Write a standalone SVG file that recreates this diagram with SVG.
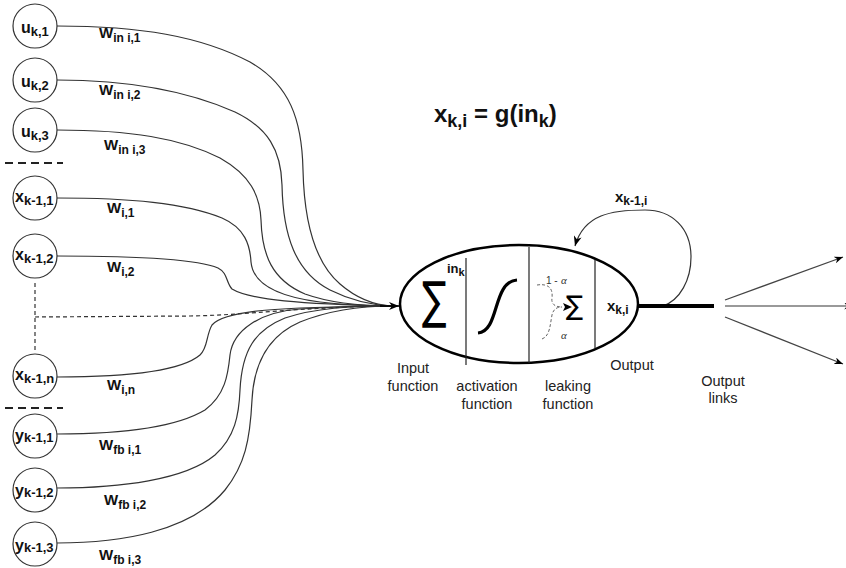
<svg xmlns="http://www.w3.org/2000/svg" width="846" height="568" viewBox="0 0 846 568">
  <style>
    .node circle { fill: #fff; stroke: #333; stroke-width: 1.2; }
    .b { font-family: "Liberation Sans", Arial, sans-serif; font-weight: bold; fill: #111; }
    .nl { font-size: 16px; }
    .ns { font-size: 13px; }
    .w { font-size: 15px; }
    .ws { font-size: 12px; }
    .cap { font-family: "Liberation Sans", Arial, sans-serif; font-size: 14.5px; fill: #222; text-anchor: middle; }
    .edge { fill: none; stroke: #333; stroke-width: 1.2; }
    .dash { fill: none; stroke: #333; stroke-width: 1.2; stroke-dasharray: 4 3; }
    .sep { stroke: #222; stroke-width: 1.8; stroke-dasharray: 8 5; }
  </style>
  <defs>
    <marker id="ah" viewBox="0 0 10 8" refX="10" refY="4" markerWidth="10" markerHeight="8" markerUnits="userSpaceOnUse" orient="auto">
      <path d="M0,0 L10,4 L0,8 L3,4 z" fill="#000"/>
    </marker>
    <marker id="ahs" viewBox="0 0 10 8" refX="10" refY="4" markerWidth="9" markerHeight="7" markerUnits="userSpaceOnUse" orient="auto">
      <path d="M0,0 L10,4 L0,8 L3,4 z" fill="#000"/>
    </marker>
  </defs>

  <rect width="846" height="568" fill="#fff"/>

  <!-- separators between input groups -->
  <line class="sep" x1="5" y1="163" x2="63" y2="163"/>
  <line class="sep" x1="5" y1="408" x2="63" y2="408"/>

  <!-- connectors -->
  <g id="connectors">
    <path class="edge" d="M57,26 C140,26 200,36 250,62 C290,85 302,120 303,170 C304,215 312,260 340,284 C355,297 372,305 392,306"/>
    <path class="edge" d="M57,80 C130,80 190,92 235,112 C268,128 281,150 282,185 C283,235 295,272 330,290 C350,300 370,305 392,306"/>
    <path class="edge" d="M57,130 C130,130 180,138 220,158 C250,175 260,195 261,220 C262,255 272,280 305,294 C330,303 360,306 392,306"/>
    <path class="edge" d="M57,198 C130,198 185,203 222,218 C245,228 250,245 251,262 C253,285 280,297 320,302 C345,305 370,306 392,306"/>
    <path class="edge" d="M57,256 C130,256 195,258 218,268 C228,273 226,283 232,289 C250,300 300,304 392,306"/>
    <path class="dash" d="M35,283 L35,352"/>
    <path class="dash" d="M35,317 L190,316 C250,315 300,307 392,306"/>
    <path class="edge" d="M57,377 C120,377 180,372 200,355 C208,348 206,335 212,325 C225,310 280,307 392,306"/>
    <path class="edge" d="M57,434 C120,434 175,428 205,410 C225,395 228,375 230,355 C233,330 260,312 300,309 C330,307 360,306 392,306"/>
    <path class="edge" d="M57,488 C120,488 185,480 215,455 C235,437 239,415 240,390 C242,350 255,330 285,318 C315,308 350,306 392,306"/>
    <path class="edge" d="M57,543 C120,543 190,532 225,490 C245,465 250,440 252,400 C254,360 270,335 300,322 C330,310 360,306 392,306"/>
    <path d="M380,306 L399,306" stroke="#000" stroke-width="1.6" fill="none" marker-end="url(#ah)"/>

    <!-- recurrent self loop -->
    <path d="M663,306 C680,300 691,280 691,257 C691,228 672,210 645,210 C612,210 584,214 575,246" fill="none" stroke="#333" stroke-width="1.2" marker-end="url(#ah)"/>
    <!-- output -->
    <line x1="638" y1="306" x2="714" y2="306" stroke="#000" stroke-width="4"/>
    <path d="M725,300 L843,257" stroke="#444" stroke-width="1.3" fill="none" marker-end="url(#ahs)"/>
    <path d="M725,306 L853,306" stroke="#777" stroke-width="1.3" fill="none" marker-end="url(#ahs)"/>
    <path d="M725,317 L843,364" stroke="#444" stroke-width="1.3" fill="none" marker-end="url(#ahs)"/>
  </g>

  <!-- input nodes -->
  <g id="u1" class="node"><circle cx="35" cy="26" r="22"/><text class="b nl" x="21" y="33">u<tspan class="ns" dy="3">k,1</tspan></text></g>
  <g id="u2" class="node"><circle cx="35" cy="80" r="22"/><text class="b nl" x="21" y="87">u<tspan class="ns" dy="3">k,2</tspan></text></g>
  <g id="u3" class="node"><circle cx="35" cy="130" r="22"/><text class="b nl" x="21" y="137">u<tspan class="ns" dy="3">k,3</tspan></text></g>
  <g id="x1" class="node"><circle cx="35" cy="198" r="22"/><text class="b nl" x="15" y="202">x<tspan class="ns" dy="3">k-1,1</tspan></text></g>
  <g id="x2" class="node"><circle cx="35" cy="256" r="22"/><text class="b nl" x="15" y="260">x<tspan class="ns" dy="3">k-1,2</tspan></text></g>
  <g id="xn" class="node"><circle cx="35" cy="376" r="22"/><text class="b nl" x="15" y="380">x<tspan class="ns" dy="3">k-1,n</tspan></text></g>
  <g id="y1" class="node"><circle cx="35" cy="436" r="22"/><text class="b nl" x="15" y="441">y<tspan class="ns" dy="1">k-1,1</tspan></text></g>
  <g id="y2" class="node"><circle cx="35" cy="490" r="22"/><text class="b nl" x="15" y="496">y<tspan class="ns" dy="1">k-1,2</tspan></text></g>
  <g id="y3" class="node"><circle cx="35" cy="544" r="22"/><text class="b nl" x="15" y="551">y<tspan class="ns" dy="1">k-1,3</tspan></text></g>

  <!-- weight labels -->
  <g id="weights">
    <text class="b w" x="99" y="38">W<tspan class="ws" dy="4">in i,1</tspan></text>
    <text class="b w" x="99" y="95">W<tspan class="ws" dy="4">in i,2</tspan></text>
    <text class="b w" x="104" y="150">W<tspan class="ws" dy="4">in i,3</tspan></text>
    <text class="b w" x="107" y="213">W<tspan class="ws" dy="4">i,1</tspan></text>
    <text class="b w" x="107" y="272">W<tspan class="ws" dy="4">i,2</tspan></text>
    <text class="b w" x="107" y="390">W<tspan class="ws" dy="4">i,n</tspan></text>
    <text class="b w" x="99" y="450">W<tspan class="ws" dy="4">fb i,1</tspan></text>
    <text class="b w" x="104" y="505">W<tspan class="ws" dy="4">fb i,2</tspan></text>
    <text class="b w" x="99" y="560">W<tspan class="ws" dy="4">fb i,3</tspan></text>
  </g>

  <!-- formula -->
  <text class="b" x="434" y="122" font-size="24">x<tspan font-size="18" dy="5">k,i</tspan><tspan dy="-5"> = g(in</tspan><tspan font-size="18" dy="5">k</tspan><tspan dy="-5">)</tspan></text>

  <!-- neuron -->
  <g id="neuron">
    <ellipse cx="519" cy="304" rx="119" ry="59" fill="none" stroke="#000" stroke-width="2.5"/>
    <line x1="466" y1="258" x2="466" y2="365" stroke="#222" stroke-width="1.2"/>
    <line x1="529" y1="247" x2="529" y2="363" stroke="#222" stroke-width="1.2"/>
    <line x1="595" y1="260" x2="595" y2="348" stroke="#222" stroke-width="1.2"/>
    <text transform="translate(422,318) scale(0.72,1)" font-family="DejaVu Sans, sans-serif" font-size="51" fill="#000">∑</text>
    <text class="b" x="447" y="273" font-size="13">in<tspan font-size="11" dy="3">k</tspan></text>
    <path d="M478,333 C500,331 492,282 517,280" fill="none" stroke="#000" stroke-width="3.2"/>
    <path d="M537,285 C550,283 553,290 552,298 C551,304 555,307 562,307" fill="none" stroke="#666" stroke-width="1" stroke-dasharray="3 2"/>
    <path d="M542,339 C550,336 550,325 552,315 C553,310 556,307 562,307" fill="none" stroke="#666" stroke-width="1" stroke-dasharray="3 2"/>
    <path d="M563,303 L572,307 L563,311 L565,307 z" fill="#000"/>
    <text transform="translate(566,315) scale(0.95,1)" font-family="DejaVu Sans, sans-serif" font-size="27" fill="#000">∑</text>
    <text x="546" y="284" font-family="Liberation Sans, sans-serif" font-size="10" fill="#333">1 -</text>
    <text x="561" y="284" font-family="Liberation Serif, serif" font-style="italic" font-size="11" fill="#333">α</text>
    <text x="561" y="339" font-family="Liberation Serif, serif" font-style="italic" font-size="11" fill="#333">α</text>
    <text class="b" x="607" y="311" font-size="15">x<tspan font-size="12" dy="3">k,i</tspan></text>
  </g>

  <text class="b" x="615" y="202" font-size="15">x<tspan font-size="12" dy="3">k-1,i</tspan></text>

  <!-- captions -->
  <text class="cap" x="413" y="373">Input</text>
  <text class="cap" x="413" y="391">function</text>
  <text class="cap" x="487" y="391">activation</text>
  <text class="cap" x="487" y="409">function</text>
  <text class="cap" x="568" y="391">leaking</text>
  <text class="cap" x="568" y="409">function</text>
  <text class="cap" x="632" y="370">Output</text>
  <text class="cap" x="723" y="386">Output</text>
  <text class="cap" x="723" y="403">links</text>
</svg>
